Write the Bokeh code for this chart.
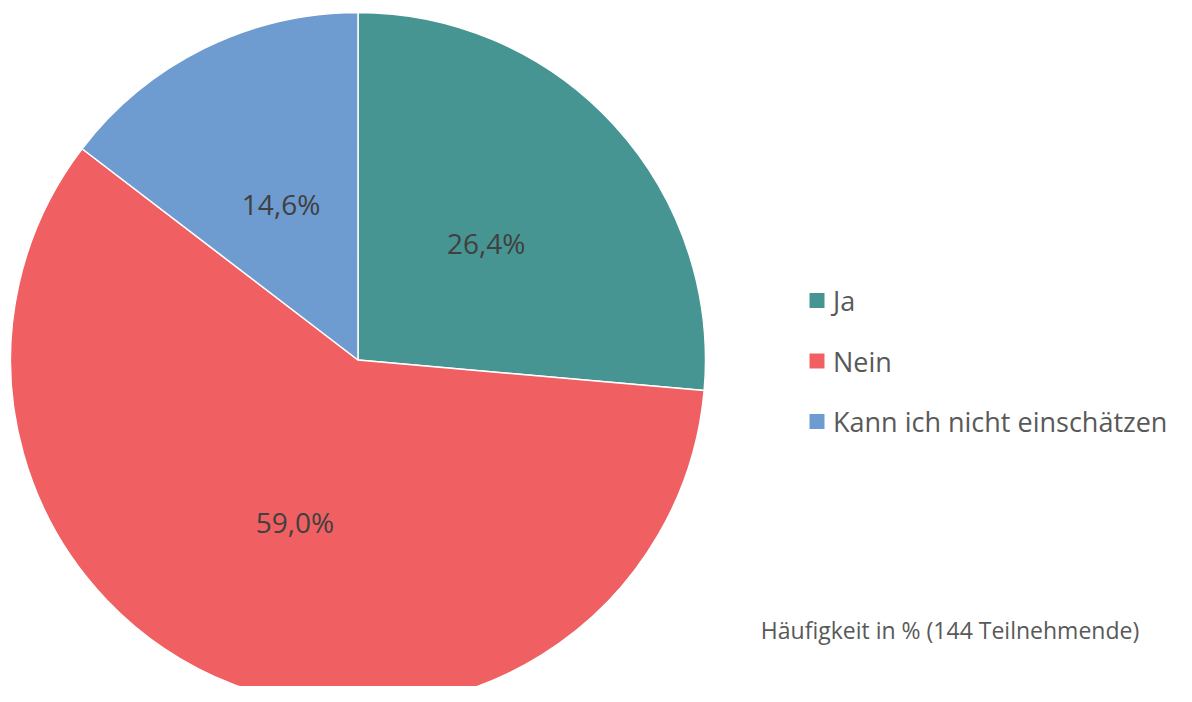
import math
from bokeh.plotting import figure
from bokeh.models import Range1d, ColumnDataSource
from bokeh.core.properties import value
from bokeh.embed import file_html
from bokeh.resources import INLINE

# ---- data ----
categories = ["Ja", "Nein", "Kann ich nicht einschätzen"]
shares = [26.4, 59.0, 14.6]
colors = ["#479593", "#F06063", "#6E9BD0"]
footnote = "Häufigkeit in % (144 Teilnehmende)"

FONT = "Open Sans"
TXT = "#404040"
TXT2 = "#595959"

W, H = 1176, 686
p = figure(width=W, height=H, output_backend="svg", toolbar_location=None,
           x_range=Range1d(0, W), y_range=Range1d(702 - H, 702),
           min_border=0, outline_line_color=None, background_fill_color="white")
p.axis.visible = False
p.grid.visible = False

# pie geometry (data units == screen pixels; y = 702 - screen_y)
cx, cy, r = 357.5, 702 - 359.5, 347.5

total = sum(shares)
starts, ends, lx, ly, labels = [], [], [], [], []
cum = 0.0
for s in shares:
    a0 = math.pi / 2 - 2 * math.pi * cum / total
    a1 = math.pi / 2 - 2 * math.pi * (cum + s) / total
    starts.append(a0)
    ends.append(a1)
    mid = (a0 + a1) / 2
    lx.append(cx + 0.5 * r * math.cos(mid))
    ly.append(cy + 0.5 * r * math.sin(mid))
    labels.append(f"{s:.1f}".replace(".", ",") + "%")
    cum += s

src = ColumnDataSource(dict(start=starts, end=ends, color=colors,
                            lx=lx, ly=ly, label=labels))
p.wedge(x=cx, y=cy, radius=r, start_angle="start", end_angle="end",
        direction="clock", fill_color="color", line_color="white",
        line_width=1.5, source=src)
p.text(x="lx", y="ly", text="label", source=src, text_align="center",
       text_baseline="middle", text_font=value(FONT),
       text_font_size="28px", text_color=TXT)

# legend
leg_x = 816.5
leg_y0 = 702 - 300
leg_dy = 60.5
ys = [leg_y0 - i * leg_dy for i in range(len(categories))]
lsrc = ColumnDataSource(dict(y=ys, color=colors, cat=categories))
p.rect(x=leg_x, y="y", width=15, height=15, fill_color="color",
       line_color=None, source=lsrc)
p.text(x=leg_x + 16, y="y", text="cat", source=lsrc, text_align="left",
       text_baseline="middle", text_font=value(FONT),
       text_font_size="27px", text_color=TXT2)

# footnote
p.text(x=[949.5], y=[702 - 629], text=[footnote], text_align="center",
       text_baseline="middle", text_font=value(FONT),
       text_font_size="23px", text_color=TXT2)

open("out.html", "w").write(file_html(p, INLINE))
